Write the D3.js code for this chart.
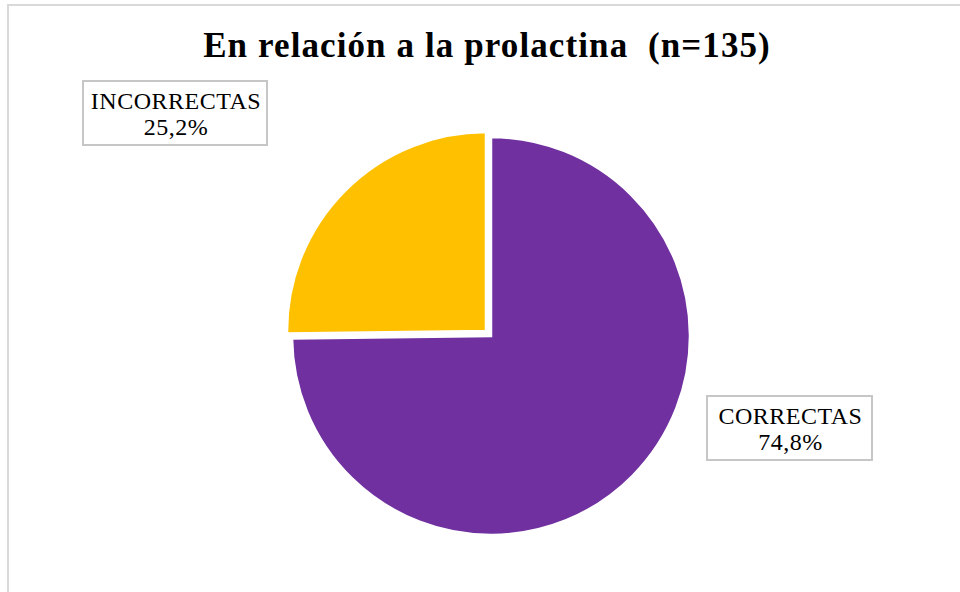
<!DOCTYPE html>
<html>
<head>
<meta charset="utf-8">
<script src="https://cdn.jsdelivr.net/npm/d3@7"></script>
<style>
  body { margin: 0; background: #fff; }
  svg { display: block; }
</style>
</head>
<body>
<svg id="chart"></svg>
<script>
const categories = ['CORRECTAS', 'INCORRECTAS'];
const values = [74.8, 25.2];
const colors = ['#7030A0', '#FFC000'];
const titleText = 'En relación a la prolactina  (n=135)';

const width = 960;
const height = 592;
const cx = 491;
const cy = 336;
const radius = 199;
const explode = [0, 7];

// label boxes (x, y, w, h)
const boxes = [
  { x: 707, y: 396, w: 165, h: 64 },
  { x: 83, y: 81, w: 184, h: 64 },
];

const locale = d3.formatLocale({ decimal: ',', thousands: '.', grouping: [3], currency: ['', ''] });
const fmt = locale.format('.1f');

const svg = d3.select('#chart')
  .attr('width', width)
  .attr('height', height);

// outer chart border
svg.append('rect')
  .attr('x', 8)
  .attr('y', 5)
  .attr('width', width + 20)
  .attr('height', height + 20)
  .attr('fill', '#fff')
  .attr('stroke', '#d9d9d9')
  .attr('stroke-width', 2);

svg.append('text')
  .attr('x', 487)
  .attr('y', 57)
  .attr('text-anchor', 'middle')
  .attr('font-family', '"Liberation Serif", "Times New Roman", serif')
  .attr('font-weight', 'bold')
  .attr('font-size', 35)
  .attr('letter-spacing', 1.1)
  .style('white-space', 'pre')
  .text(titleText);

const pie = d3.pie().sort(null).value(d => d);
const arcs = pie(values);
const arc = d3.arc().innerRadius(0).outerRadius(radius);

const g = svg.append('g').attr('transform', `translate(${cx},${cy})`);

g.selectAll('path')
  .data(arcs)
  .enter().append('path')
  .attr('d', arc)
  .attr('fill', (d, i) => colors[i])
  .attr('stroke', '#fff')
  .attr('stroke-width', 2.5)
  .attr('stroke-linejoin', 'miter')
  .attr('transform', (d, i) => {
    const a = (d.startAngle + d.endAngle) / 2;
    const off = explode[i];
    return `translate(${off * Math.sin(a)},${-off * Math.cos(a)})`;
  });

// data labels
const labels = svg.selectAll('g.label')
  .data(arcs)
  .enter().append('g')
  .attr('class', 'label');

labels.append('rect')
  .attr('x', (d, i) => boxes[i].x)
  .attr('y', (d, i) => boxes[i].y)
  .attr('width', (d, i) => boxes[i].w)
  .attr('height', (d, i) => boxes[i].h)
  .attr('fill', '#fff')
  .attr('stroke', '#c6c6c6')
  .attr('stroke-width', 2);

const txt = labels.append('text')
  .attr('text-anchor', 'middle')
  .attr('font-family', '"Liberation Serif", "Times New Roman", serif')
  .attr('font-size', 24)
  .attr('letter-spacing', 0.5)
  .attr('fill', '#000');

txt.append('tspan')
  .attr('x', (d, i) => boxes[i].x + boxes[i].w / 2 + 1)
  .attr('y', (d, i) => boxes[i].y + 28)
  .text((d, i) => categories[i]);

txt.append('tspan')
  .attr('x', (d, i) => boxes[i].x + boxes[i].w / 2 + 1)
  .attr('y', (d, i) => boxes[i].y + 54)
  .text(d => `${fmt(d.data)}%`);
</script>
</body>
</html>
